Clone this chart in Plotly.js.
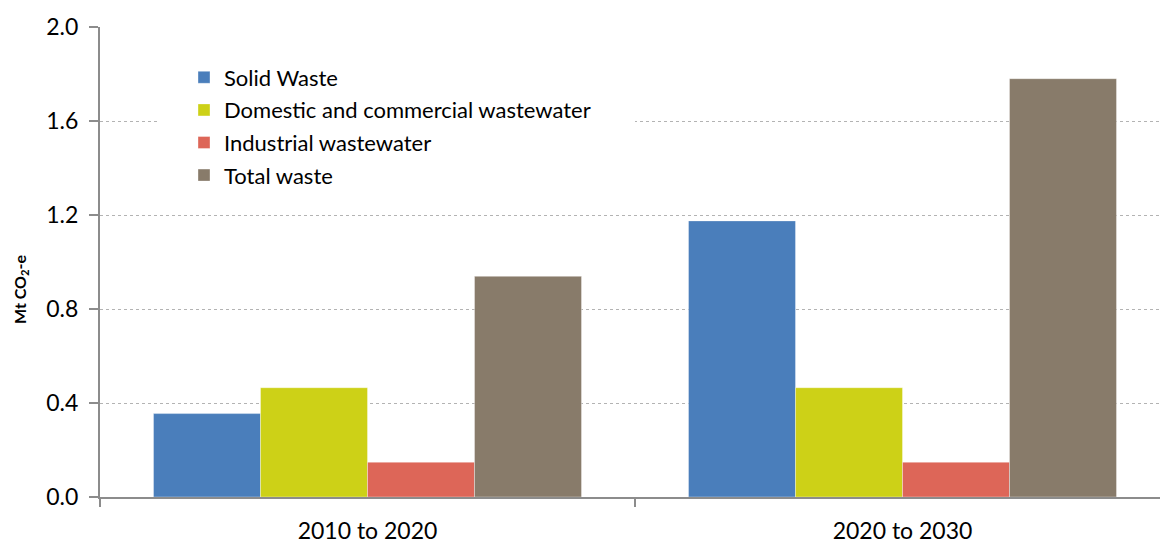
<!DOCTYPE html>
<html>
<head>
<meta charset="utf-8">
<script src="https://cdn.plot.ly/plotly-3.0.1.min.js"></script>
<style>
html,body{margin:0;padding:0;overflow:hidden;background:#fff;}
#chart{width:1170px;height:549px;}
</style>
</head>
<body>
<div id="chart"></div>
<script>
var categories = ["2010 to 2020", "2020 to 2030"];
var seriesNames = ["Solid Waste", "Domestic and commercial wastewater", "Industrial wastewater", "Total waste"];
var solidWaste = [0.355, 1.175];
var domesticWastewater = [0.465, 0.465];
var industrialWastewater = [0.148, 0.148];
var totalWaste = [0.939, 1.78];
var yTickValues = [0, 0.4, 0.8, 1.2, 1.6, 2.0];
var yTitle = "<b>Mt CO<sub>2</sub>-e</b>";

var colors = ["#4a7ebb", "#cdd117", "#dd6658", "#887b6a"];
var values = [solidWaste, domesticWastewater, industrialWastewater, totalWaste];

var traces = values.map(function (v, i) {
  return {
    type: "bar",
    x: categories,
    y: v,
    name: seriesNames[i],
    legendgroup: "g" + i,
    marker: {color: colors[i], line: {color: "rgba(255,255,255,0.35)", width: 1}},
    hoverinfo: "y+name"
  };
});

var W = 1170, H = 549, L = 100, T = 27, B = 52;
var pw = W - L, ph = H - T - B;
function px2x(p) { return (p - L) / pw; }
function px2y(p) { return (H - B - p) / ph; }

var layout = {
  width: W,
  height: H,
  margin: {l: L, r: 0, t: T, b: B, pad: 0},
  paper_bgcolor: "#ffffff",
  plot_bgcolor: "#ffffff",
  font: {family: "Lato, 'Open Sans', sans-serif", color: "#000000", size: 23},
  barmode: "group",
  bargap: 0.2,
  bargroupgap: 0,
  showlegend: true,
  legend: {
    x: px2x(184),
    y: px2y(56.5),
    xanchor: "left",
    yanchor: "top",
    bgcolor: "rgba(0,0,0,0)",
    borderwidth: 0,
    font: {family: "Lato, sans-serif", size: 22, color: "#000"},
    tracegroupgap: 1,
    itemwidth: 30
  },
  xaxis: {
    type: "category",
    range: [-0.5, 1.5],
    showline: true,
    linecolor: "#8c8c8c",
    linewidth: 2,
    ticks: "outside",
    tickson: "boundaries",
    ticklen: 8,
    tickwidth: 1.5,
    tickcolor: "#8c8c8c",
    showgrid: false,
    zeroline: false,
    tickfont: {family: "Lato, sans-serif", size: 23, color: "#000"},
    ticklabelstandoff: 12,
    automargin: false
  },
  yaxis: {
    range: [0, 2.0],
    tickvals: yTickValues,
    tickformat: ".1f",
    showline: true,
    linecolor: "#8c8c8c",
    linewidth: 2,
    ticks: "outside",
    ticklen: 9,
    tickwidth: 1.5,
    tickcolor: "#8c8c8c",
    showgrid: true,
    gridcolor: "#b3b3b3",
    gridwidth: 1,
    griddash: "dot",
    zeroline: false,
    tickfont: {family: "Lato, sans-serif", size: 23, color: "#000"},
    ticklabelstandoff: 6,
    automargin: false
  },
  annotations: [{
    text: yTitle,
    xref: "paper", yref: "paper",
    x: px2x(20), y: px2y(290),
    xanchor: "center", yanchor: "middle",
    textangle: -90,
    showarrow: false,
    font: {family: "Lato, sans-serif", size: 16, color: "#000"}
  }],
  shapes: [{
    type: "rect",
    xref: "paper", yref: "paper",
    x0: px2x(160), x1: px2x(635),
    y0: px2y(210), y1: px2y(32),
    fillcolor: "#ffffff",
    line: {width: 0},
    layer: "above"
  }]
};

Plotly.newPlot("chart", traces, layout, {displayModeBar: false, staticPlot: true});
</script>
</body>
</html>
